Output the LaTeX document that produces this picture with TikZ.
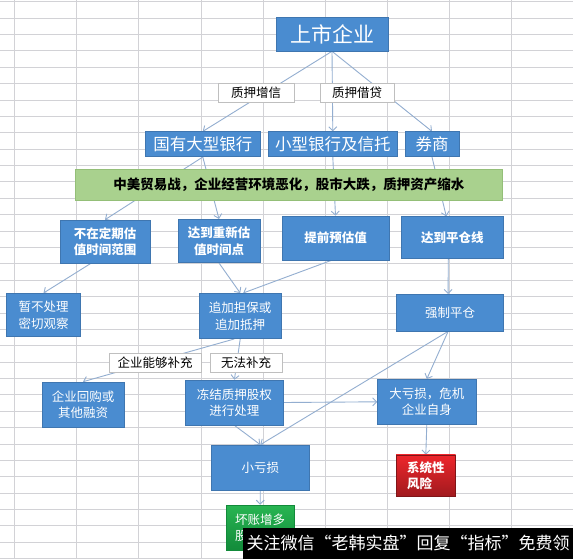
\documentclass[tikz,border=0pt]{standalone}
\usepackage{fontspec}
\setmainfont{Noto Sans CJK SC}
\usepackage{tikz}
\usetikzlibrary{arrows.meta,positioning}

\definecolor{boxblue}{HTML}{4A8CD0}
\definecolor{boxedge}{HTML}{3F76B0}
\definecolor{barfill}{HTML}{A9D18E}
\definecolor{baredge}{HTML}{94BF78}
\definecolor{linkblue}{HTML}{93AED0}
\definecolor{gridgray}{HTML}{D2D2D6}
\definecolor{riskred}{HTML}{EE262C}
\definecolor{riskdark}{HTML}{A01A1E}
\definecolor{debtgreen}{HTML}{28B552}
\definecolor{debtdark}{HTML}{128A3A}

\pgfdeclarelayer{gridlayer}
\pgfdeclarelayer{edgelayer}
\pgfsetlayers{gridlayer,edgelayer,main}

\begin{document}
\begin{tikzpicture}[
    x=1pt, y=-1pt,
    gridline/.style={
        draw=gridgray,
        line width=0.8pt
    },
    bluebox/.style={
        rectangle,
        fill=boxblue,
        draw=boxedge,
        line width=0.6pt,
        text=white,
        inner sep=0pt,
        align=center,
        font=\fontsize{12.5}{16.5}\selectfont
    },
    bankbox/.style={
        bluebox,
        minimum height=25pt,
        font=\fontsize{16.5}{18}\selectfont
    },
    tagbox/.style={
        rectangle,
        fill=white,
        draw=black!25,
        line width=0.6pt,
        inner sep=0pt,
        minimum height=19pt,
        font=\fontsize{12.5}{14}\selectfont
    },
    arrow/.style={
        ->,
        draw=linkblue,
        line width=0.9pt,
        >={Straight Barb[length=4pt,width=8pt]}
    }
]

\useasboundingbox (0,0) rectangle (573,558);

% --- spreadsheet grid ---
\begin{pgfonlayer}{gridlayer}
\fill[white] (0,0) rectangle (573,558);
\foreach \k in {0,...,9}
    \draw[gridline] ({14.6+62.1*\k},0) -- ({14.6+62.1*\k},558);
\foreach \k in {0,...,34}
    \draw[gridline] (0,{1.7+16.38*\k}) -- (573,{1.7+16.38*\k});
\end{pgfonlayer}

% --- top and lenders ---
\node[bluebox, minimum width=112pt, minimum height=34pt, font=\fontsize{21}{24}\selectfont] (top) at (332,34) {上市企业};
\node[bankbox, minimum width=114.5pt] (guoyou) at (202.8,144.2) {国有大型银行};
\node[bankbox, minimum width=129.5pt] (xiaoxing) at (332.8,144.2) {小型银行及信托};
\node[bankbox, minimum width=54pt] (quanshang) at (432,144.2) {券商};

% --- shock bar ---
\node[rectangle, fill=barfill, draw=baredge, line width=0.6pt, minimum width=427.6pt, minimum height=30.7pt, font=\fontsize{13.5}{15}\selectfont\bfseries] (shock) at (288.8,184.7) {中美贸易战，企业经营环境恶化，股市大跌，质押资产缩水};

% --- second row ---
\node[bluebox, minimum width=90pt, minimum height=43pt, align=left, font=\fontsize{12.5}{16.5}\selectfont\bfseries] (buzai) at (105,241.5) {不在定期估\\值时间范围};
\node[bluebox, minimum width=82pt, minimum height=43.4pt, font=\fontsize{12.5}{16.5}\selectfont\bfseries] (chongxin) at (219,241) {达到重新估\\值时间点};
\node[bluebox, minimum width=107pt, minimum height=44pt, font=\fontsize{12.5}{16.5}\selectfont\bfseries] (tiqian) at (335.5,238) {提前预估值};
\node[bluebox, minimum width=102.6pt, minimum height=42pt, font=\fontsize{12.5}{16.5}\selectfont\bfseries] (pingcangxian) at (452.3,237.7) {达到平仓线};

% --- third row ---
\node[bluebox, minimum width=73.8pt, minimum height=43.4pt] (zanbu) at (43.5,315) {暂不处理\\密切观察};
\node[bluebox, minimum width=82.4pt, minimum height=45.4pt] (zhuijia) at (240.2,316) {追加担保或\\追加抵押};
\node[bluebox, minimum width=107pt, minimum height=36.7pt] (qiangzhi) at (450.1,312.7) {强制平仓};

% --- fourth row ---
\node[bluebox, minimum width=82pt, minimum height=45pt] (huigou) at (83,404.5) {企业回购或\\其他融资};
\node[bluebox, minimum width=97.3pt, minimum height=45pt] (dongjie) at (234.4,402.5) {冻结质押股权\\进行处理};
\node[bluebox, minimum width=98.4pt, minimum height=45pt] (dakui) at (426.8,401.8) {大亏损，危机\\企业自身};

% --- outcomes ---
\node[bluebox, minimum width=98.6pt, minimum height=45pt] (xiaokui) at (260.3,467.5) {小亏损};
\node[rectangle, top color=riskred, bottom color=riskdark, draw=riskdark!80!black, line width=0.6pt, text=white, minimum width=59.5pt, minimum height=41.7pt, align=left, font=\fontsize{12.5}{16.5}\selectfont\bfseries] (xitong) at (425.8,475.8) {系统性\\风险};
\node[rectangle, top color=debtgreen, bottom color=debtdark, draw=debtdark, line width=0.6pt, text=white, minimum width=68.3pt, minimum height=45.7pt, align=left, font=\fontsize{12.5}{16.5}\selectfont] (huaizhang) at (260.2,527.9) {坏账增多\\股};

% --- connectors ---
\begin{pgfonlayer}{edgelayer}
\draw[arrow] (top.south) -- (guoyou.north);
\draw[arrow] (top.south) -- (xiaoxing.north);
\draw[arrow] (top.south) -- (quanshang.north);
\draw[arrow] (guoyou.south) -- (buzai.north);
\draw[arrow] (guoyou.south) -- (chongxin.north);
\draw[arrow] (xiaoxing.south) -- (tiqian.north);
\draw[arrow] (quanshang.south) -- ([xshift=-6pt]pingcangxian.north);
\draw[arrow] ([xshift=-14pt]buzai.south) -- (zanbu.north);
\draw[arrow] (chongxin.south) -- (zhuijia.north);
\draw[arrow] ([xshift=-4pt]tiqian.south) -- ([xshift=3pt]zhuijia.north);
\draw[arrow] ([xshift=-4pt]pingcangxian.south) -- ([xshift=-2pt]qiangzhi.north);
\draw[arrow] ([xshift=-6pt]zhuijia.south) -- (huigou.north);
\draw[arrow] (zhuijia.south) -- (dongjie.north);
\draw[arrow] ([xshift=-2pt]qiangzhi.south) -- (xiaokui.north);
\draw[arrow] ([xshift=-2pt]qiangzhi.south) -- (dakui.north);
\draw[arrow] (dongjie.east) -- (dakui.west);
\draw[arrow] (dongjie.south) -- (xiaokui.north);
\draw[arrow] (dakui.south) -- (xitong.north);
\draw[arrow] (xiaokui.south) -- (huaizhang.north);
\end{pgfonlayer}

% --- link tags ---
\node[tagbox, minimum width=76pt] (zengxin) at (256,92.5) {质押增信};
\node[tagbox, minimum width=74pt] (jiedai) at (357,92.5) {质押借贷};
\node[tagbox, minimum width=92pt] (nengbu) at (155,362.5) {企业能够补充};
\node[tagbox, minimum width=72pt] (wufa) at (246,363) {无法补充};

% --- watermark ---
\node[rectangle, fill=black, text=white, inner sep=0pt, minimum width=330pt, minimum height=31pt, font=\fontsize{17}{19}\selectfont] (mark) at (408,543) {关注微信“老韩实盘”回复“指标”免费领};

\end{tikzpicture}
\end{document}
